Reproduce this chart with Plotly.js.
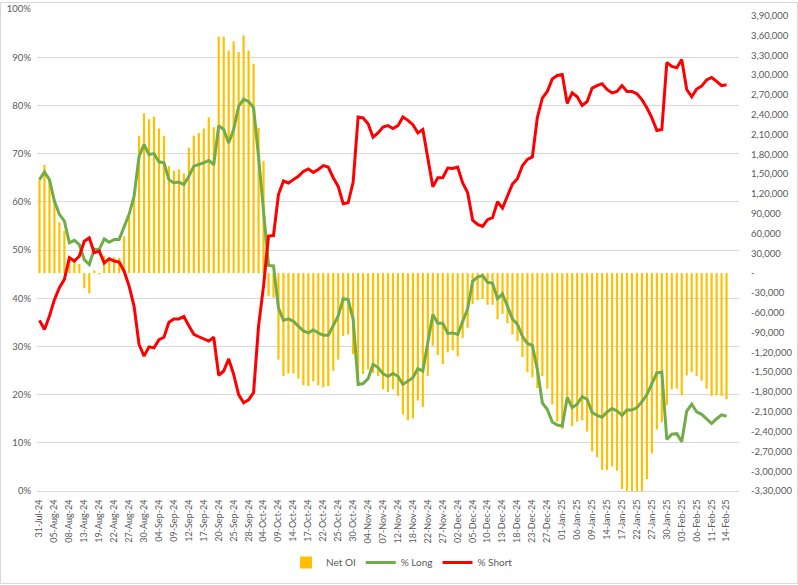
<!DOCTYPE html>
<html><head><meta charset="utf-8">
<script src="https://cdn.plot.ly/plotly-3.0.1.min.js"></script>
<style>
html,body{margin:0;padding:0;background:#fff;}
#chart{position:absolute;left:0;top:0;width:798px;height:585px;}
#frame{position:absolute;left:0;top:2px;width:796px;height:580px;border:1px solid #d9d9d9;pointer-events:none;}
</style>
</head><body>
<div id="chart"></div><div id="frame"></div>
<script>
const dates = [
"31-Jul-24","01-Aug-24","02-Aug-24","05-Aug-24","06-Aug-24","07-Aug-24","08-Aug-24","09-Aug-24","12-Aug-24","13-Aug-24",
"14-Aug-24","16-Aug-24","19-Aug-24","20-Aug-24","21-Aug-24","22-Aug-24","23-Aug-24","26-Aug-24","27-Aug-24","28-Aug-24",
"29-Aug-24","30-Aug-24","02-Sep-24","03-Sep-24","04-Sep-24","05-Sep-24","06-Sep-24","09-Sep-24","10-Sep-24","11-Sep-24",
"12-Sep-24","13-Sep-24","16-Sep-24","17-Sep-24","18-Sep-24","19-Sep-24","20-Sep-24","23-Sep-24","24-Sep-24","25-Sep-24",
"26-Sep-24","27-Sep-24","28-Sep-24","01-Oct-24","03-Oct-24","04-Oct-24","07-Oct-24","08-Oct-24","09-Oct-24","10-Oct-24",
"11-Oct-24","14-Oct-24","15-Oct-24","16-Oct-24","17-Oct-24","18-Oct-24","21-Oct-24","22-Oct-24","23-Oct-24","24-Oct-24",
"25-Oct-24","28-Oct-24","29-Oct-24","30-Oct-24","31-Oct-24","01-Nov-24","04-Nov-24","05-Nov-24","06-Nov-24","07-Nov-24",
"08-Nov-24","11-Nov-24","12-Nov-24","13-Nov-24","14-Nov-24","18-Nov-24","19-Nov-24","21-Nov-24","22-Nov-24","25-Nov-24",
"26-Nov-24","27-Nov-24","28-Nov-24","29-Nov-24","02-Dec-24","03-Dec-24","04-Dec-24","05-Dec-24","06-Dec-24","09-Dec-24",
"10-Dec-24","11-Dec-24","12-Dec-24","13-Dec-24","16-Dec-24","17-Dec-24","18-Dec-24","19-Dec-24","20-Dec-24","23-Dec-24",
"24-Dec-24","26-Dec-24","27-Dec-24","30-Dec-24","31-Dec-24","01-Jan-25","02-Jan-25","03-Jan-25","06-Jan-25","07-Jan-25",
"08-Jan-25","09-Jan-25","10-Jan-25","13-Jan-25","14-Jan-25","15-Jan-25","16-Jan-25","17-Jan-25","20-Jan-25","21-Jan-25",
"22-Jan-25","23-Jan-25","24-Jan-25","27-Jan-25","28-Jan-25","29-Jan-25","30-Jan-25","31-Jan-25","01-Feb-25","03-Feb-25",
"04-Feb-25","05-Feb-25","06-Feb-25","07-Feb-25","10-Feb-25","11-Feb-25","12-Feb-25","13-Feb-25","14-Feb-25"
];

const netOI = [
142000,164000,143000,112000,77000,64000,22000,20000,14000,-23000,
-31000,4000,-2000,26000,23000,24000,23000,56000,85000,122000,
208000,242000,233000,237000,219000,208000,162000,155000,157000,151000,
190000,208000,212000,219000,236000,221000,358000,358000,337000,351000,
335000,360000,337000,317000,220000,170000,-35000,-37000,-131000,-156000,
-152000,-152000,-160000,-170000,-171000,-164000,-170000,-173000,-171000,-148000,
-131000,-95000,-93000,-123000,-160000,-153000,-146000,-151000,-156000,-176000,
-180000,-176000,-186000,-214000,-223000,-220000,-193000,-203000,-156000,-110000,
-124000,-138000,-120000,-117000,-126000,-98000,-83000,-47000,-41000,-39000,
-48000,-48000,-70000,-62000,-76000,-93000,-103000,-127000,-150000,-158000,
-174000,-156000,-175000,-199000,-225000,-236000,-195000,-232000,-225000,-223000,
-240000,-270000,-279000,-298000,-298000,-293000,-299000,-327000,-345000,-345000,
-345000,-345000,-312000,-273000,-237000,-226000,-200000,-176000,-175000,-185000,
-155000,-150000,-156000,-163000,-175000,-186000,-185000,-186000,-191000
];

const longPct = [
64.6,66.2,64.6,60.1,57.4,56.0,51.5,52.0,51.1,48.0,
47.0,50.2,50.1,52.3,51.6,52.2,52.2,54.9,57.4,61.2,
69.4,71.9,69.8,70.0,68.3,68.1,64.6,63.9,64.1,63.6,
65.3,67.4,67.7,68.1,68.6,67.7,75.8,75.0,72.2,75.0,
79.8,81.3,80.8,79.5,69.4,57.8,46.8,46.7,38.0,35.4,
35.7,35.2,34.2,33.2,32.8,33.4,32.8,32.3,32.3,34.2,
36.3,39.9,39.7,35.6,22.1,22.3,23.3,26.3,25.6,24.3,
23.8,24.4,23.8,22.1,22.8,23.5,25.4,24.9,30.8,36.6,
34.8,34.8,32.7,32.8,32.5,35.2,37.8,43.5,44.4,44.7,
43.3,43.1,39.9,40.9,38.4,35.7,34.6,32.1,30.6,30.2,
25.2,18.3,16.9,14.3,13.7,13.5,19.4,17.3,18.0,19.6,
19.0,16.3,15.7,15.3,16.4,17.1,16.6,15.7,16.8,16.8,
17.3,18.5,20.0,22.1,24.5,24.7,10.7,11.8,11.9,10.2,
16.6,18.0,16.4,15.9,14.9,14.0,15.0,15.8,15.5
];

const shortPct = [
35.4,33.5,36.3,39.7,42.2,43.9,48.4,47.7,48.7,51.8,
52.5,49.4,49.8,47.3,48.2,47.7,47.5,45.6,42.5,38.3,
30.4,28.0,29.9,29.7,31.4,31.9,35.0,35.7,35.7,36.2,
34.3,32.5,32.0,31.6,31.1,31.9,24.0,24.9,27.4,24.2,
20.0,18.3,18.9,20.4,34.2,42.5,52.9,53.0,61.5,64.3,
63.9,64.6,65.3,66.3,66.8,66.1,66.7,67.5,67.2,65.0,
63.2,59.6,59.8,64.1,77.6,77.4,76.2,73.4,74.3,75.5,
75.8,75.2,75.8,77.6,76.9,76.0,74.3,75.0,68.8,63.1,
65.0,65.0,67.0,66.9,67.2,63.9,61.9,56.2,55.3,54.9,
56.3,56.7,60.0,58.7,61.2,63.7,64.8,67.5,68.8,69.3,
77.5,81.5,82.9,85.5,86.2,86.4,80.4,82.6,81.8,80.0,
80.8,83.6,84.1,84.5,83.3,82.6,82.9,84.1,82.9,82.9,
82.4,81.2,79.5,77.4,74.8,75.0,88.9,88.1,87.8,89.5,
83.3,81.8,83.4,84.0,85.3,85.8,85.0,84.1,84.3
];

const seriesNames = ["Net OI", "% Long", "% Short"];

// tick labels
const xTickLabels = dates.filter((d, i) => i % 3 === 0);
const rightTickVals = [];
for (let v = -330000; v <= 390000; v += 30000) rightTickVals.push(v);
function indian(v) {
  if (v === 0) return "-";
  const neg = v < 0;
  const s = String(Math.abs(v));
  const last3 = s.slice(-3);
  let rest = s.slice(0, -3);
  rest = rest.replace(/\B(?=(\d{2})+(?!\d))/g, ",");
  const out = rest ? rest + "," + last3 : last3;
  return (neg ? "-" : "") + out;
}
const rightTickText = rightTickVals.map(indian);

const FONT = "Lato, 'Liberation Sans', sans-serif";

const traces = [
  {type: "bar", name: seriesNames[0], x: dates, y: netOI, yaxis: "y",
   marker: {color: "#FFC000", line: {width: 0}}},
  {type: "scatter", mode: "lines", name: seriesNames[1], x: dates, y: longPct, yaxis: "y2",
   line: {color: "#70AD47", width: 3, shape: "linear"}},
  {type: "scatter", mode: "lines", name: seriesNames[2], x: dates, y: shortPct, yaxis: "y2",
   line: {color: "#FF0000", width: 3, shape: "linear"}}
];

const layout = {
  width: 798, height: 585,
  margin: {l: 37, r: 59, t: 9, b: 93, pad: 0},
  paper_bgcolor: "#ffffff", plot_bgcolor: "#ffffff",
  font: {family: FONT, size: 10, color: "#595959"},
  showlegend: true,
  legend: {orientation: "h", x: 0.52, xanchor: "center", y: -0.146, yanchor: "middle",
           font: {family: FONT, size: 10, color: "#595959"}, traceorder: "normal"},
  bargap: 0.56,
  xaxis: {type: "category", range: [-0.5, 140.5], tickmode: "array",
          tickvals: xTickLabels, ticktext: xTickLabels, tickangle: -90,
          tickfont: {family: FONT, size: 9, color: "#595959"}, ticklabelstandoff: 4,
          showgrid: false, showline: true, linecolor: "#d9d9d9", linewidth: 1,
          ticks: "", zeroline: false, automargin: false},
  yaxis: {side: "right", range: [-330000, 400000], tickmode: "array",
          tickvals: rightTickVals, ticktext: rightTickText,
          tickfont: {family: FONT, size: 9.5, color: "#595959"}, ticklabelstandoff: 11,
          showgrid: false, zeroline: false, showline: false, ticks: "", automargin: false},
  yaxis2: {overlaying: "y", side: "left", range: [0, 100], tick0: 0, dtick: 10, ticksuffix: "%",
           tickfont: {family: FONT, size: 9.5, color: "#595959"}, ticklabelstandoff: 5,
           showgrid: true, gridcolor: "#d9d9d9", gridwidth: 1,
           zeroline: false, showline: false, ticks: "", automargin: false}
};

Plotly.newPlot("chart", traces, layout, {staticPlot: true, displayModeBar: false});
</script>
</body></html>
